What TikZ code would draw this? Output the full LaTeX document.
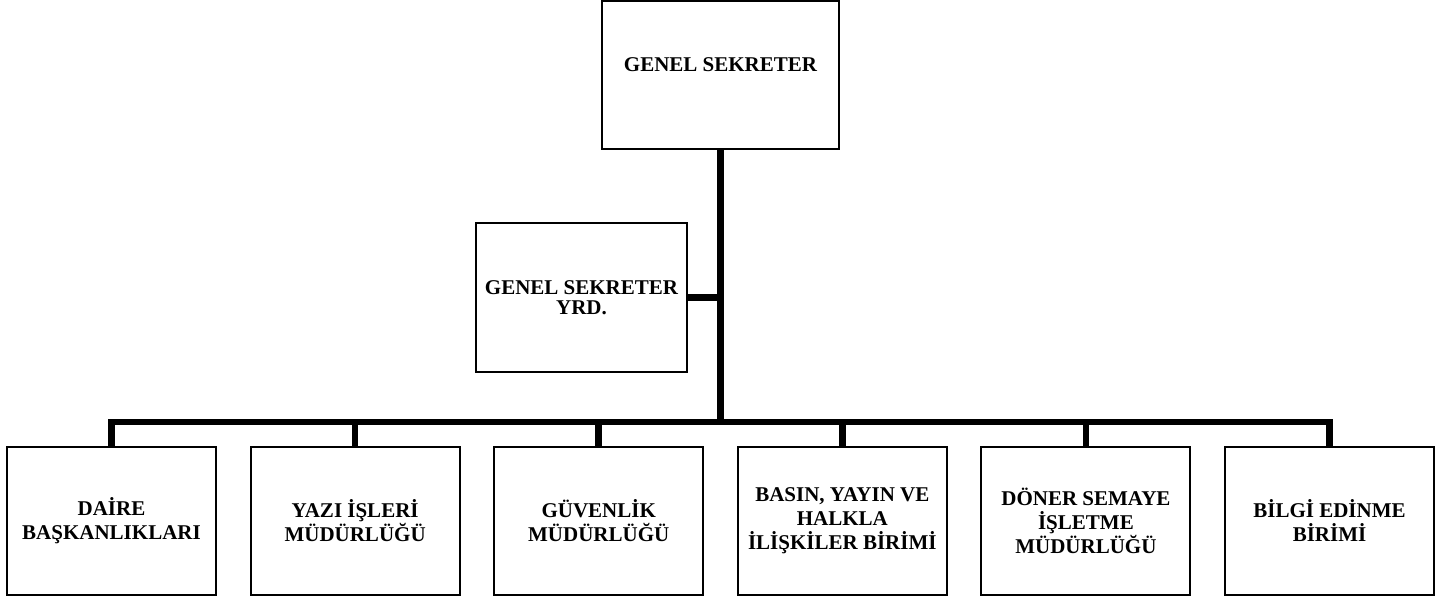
\documentclass[tikz,border=0pt]{standalone}
\usepackage{fontspec}
\setmainfont{Liberation Serif}
\usetikzlibrary{positioning}

\begin{document}
\begin{tikzpicture}[
  x=1pt, y=-1pt, node distance=32.6pt,
  unit/.style={draw, line width=2pt, align=center, minimum width=209pt,
               minimum height=148pt, inner sep=2pt,
               font=\fontsize{21}{24}\selectfont\bfseries},
  conn/.style={line width=6.5pt}
]
\useasboundingbox (0,0) rectangle (1453,600);

% top level
\node[unit, minimum width=237pt, minimum height=0pt, inner ysep=0pt,
      text height=70pt, text depth=78pt] (gs) at (720.5,75) {GENEL SEKRETER};
\node[unit, minimum width=211pt, minimum height=149pt] (yrd) at (581.5,297.5)
  {GENEL SEKRETER\\[-4pt] YRD.};

% units
\node[unit] (daire) at (111.5,521) {DAİRE\\ BAŞKANLIKLARI};
\node[unit, right=of daire] (yazi) {YAZI İŞLERİ\\ MÜDÜRLÜĞÜ};
\node[unit, right=of yazi] (guvenlik) {GÜVENLİK\\ MÜDÜRLÜĞÜ};
\node[unit, right=of guvenlik] (basin) {BASIN, YAYIN VE\\ HALKLA\\ İLİŞKİLER BİRİMİ};
\node[unit, right=of basin] (doner) {DÖNER SEMAYE\\ İŞLETME\\ MÜDÜRLÜĞÜ};
\node[unit, right=of doner] (bilgi) {BİLGİ EDİNME\\ BİRİMİ};

\coordinate (bus) at (720.5,422);
\draw[conn] (gs) -- (bus);
\draw[conn] (yrd) -- (yrd -| bus);
\foreach \u in {daire,yazi,guvenlik,basin,doner,bilgi}
  \draw[conn] (bus) -| (\u.north);
\end{tikzpicture}
\end{document}
